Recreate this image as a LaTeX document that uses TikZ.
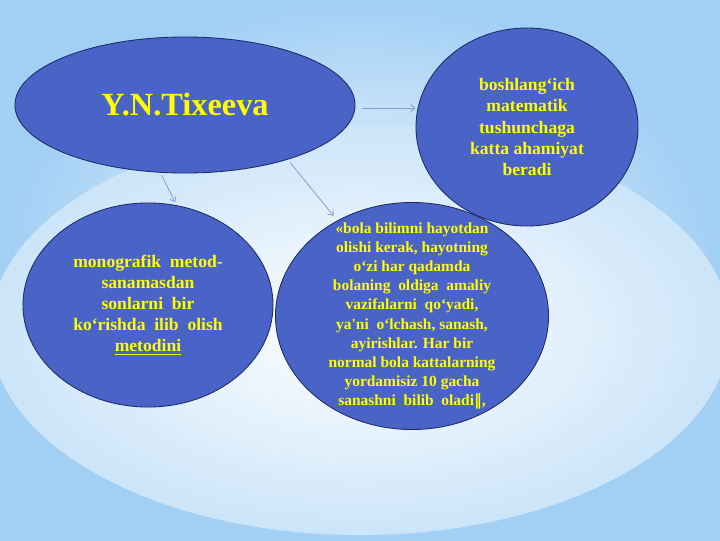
\documentclass[tikz,border=0pt]{standalone}
\usepackage{fontspec}
\usetikzlibrary{shapes.geometric,arrows.meta,calc}
\newfontfamily\slidefont{Liberation Serif}
\newfontfamily\barfont{DejaVu Serif}
\definecolor{bgblue}{HTML}{A2CFF4}
\definecolor{ovalblue}{HTML}{4A63C6}
\definecolor{ovalline}{HTML}{1C2A66}
\definecolor{txtyellow}{HTML}{FFFF00}
\definecolor{arrowblue}{HTML}{8C9ED8}

\begin{document}
\begin{tikzpicture}[x=0.025cm,y=-0.025cm,
		oval/.style={ellipse,draw=ovalline,line width=0.6pt,fill=ovalblue,text=txtyellow,align=center,inner sep=0pt},
		link/.style={draw=arrowblue,line width=0.6pt,-{Straight Barb[length=3pt,width=5pt]}}]
		\useasboundingbox (0,0) rectangle (720,540);
		\fill[bgblue] (0,0) rectangle (720,540);
		\shade[inner color=white!90!bgblue,outer color=bgblue] (0,0) rectangle (720,540);
		\shade[inner color=white,outer color=bgblue!55!white] (360,330) ellipse [x radius=9.25cm,y radius=5.125cm];
		
		\node[oval,minimum width=8.5cm,minimum height=3.4cm,font=\slidefont\bfseries\fontsize{23}{27}\selectfont] (tix) at (185,105) {Y.N.Tixeeva};
		\node[oval,minimum width=5.55cm,minimum height=4.95cm,font=\slidefont\bfseries\fontsize{12.5}{15}\selectfont] (boshl) at (527,127) {boshlang‘ich\\matematik\\tushunchaga\\katta ahamiyat\\beradi};
		\node[oval,minimum width=6.25cm,minimum height=5.1cm,font=\slidefont\bfseries\fontsize{12.5}{15}\selectfont] (mono) at (148,305) {monografik\ \ metod-\\sanamasdan\\sonlarni\ \ bir\\ko‘rishda\ \ ilib\ \ olish\\\underline{metodini}};
		\node[oval,minimum width=6.825cm,minimum height=5.675cm,inner ysep=-0.6cm,font=\slidefont\bfseries\fontsize{11}{13.6}\selectfont] (bola) at (412,316) {«bola bilimni hayotdan\\olishi kerak, hayotning\\o‘zi har qadamda\\bolaning\ \ oldiga\ \ amaliy\\vazifalarni\ \ qo‘yadi,\\ya'ni\ \ o‘lchash, sanash,\\ayirishlar. Har bir\\normal bola kattalarning\\yordamisiz 10 gacha\\sanashni\ \ bilib\ \ oladi{\barfont\bfseries ‖},};
		
		\coordinate (t1) at ($(tix.east)+(7,3)$);
		\draw[link] (t1) -- (t1 -| boshl.west);
		\draw[link,shorten <=2pt,shorten >=2.5pt] (tix.250) -- (mono.74);
		\draw[link,shorten <=2.8pt,shorten >=4.3pt] (tix.332) -- (bola.128);
\end{tikzpicture}
\end{document}
